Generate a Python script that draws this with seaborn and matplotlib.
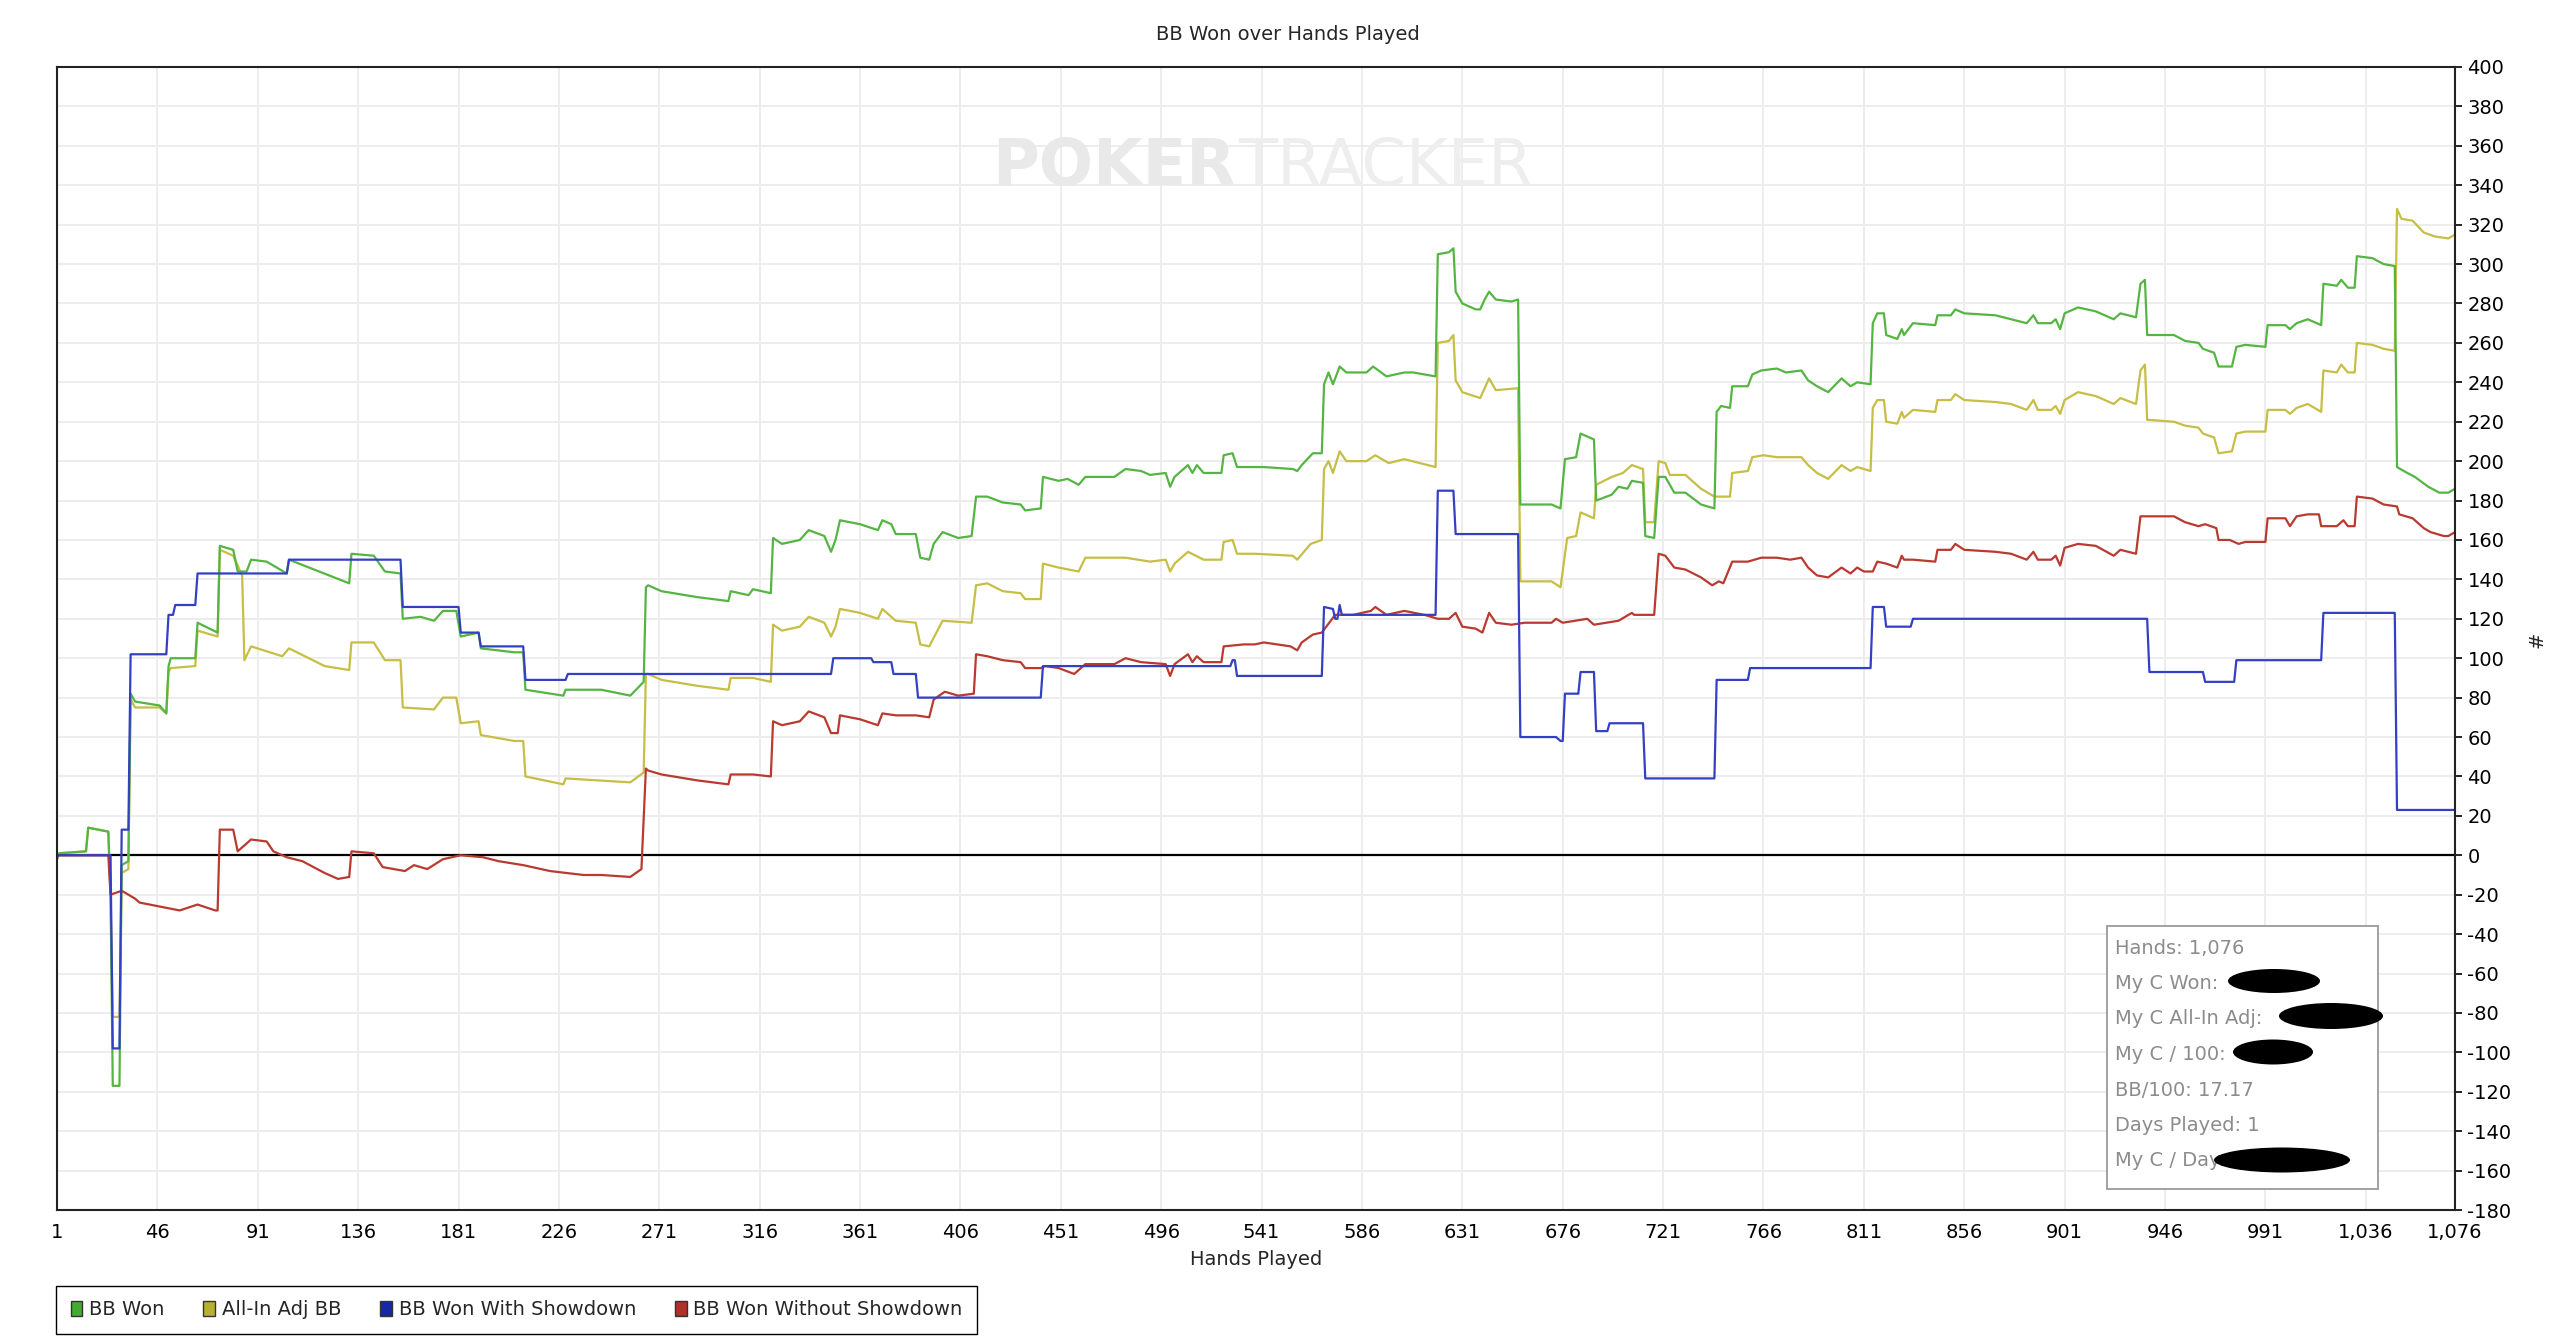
import pandas as pd
import matplotlib
matplotlib.use('Agg')
import matplotlib.pyplot as plt
import seaborn as sns
from matplotlib.patches import Patch, Rectangle, Ellipse

# Valores (mano, BB acumulados)
bb_won_hands = [
    1, 2, 14, 15, 24, 25, 26, 29, 30, 33,
    34, 36, 47, 50, 51, 52, 63, 64, 73, 74,
    80, 82, 86, 88, 95, 104, 105, 132, 133, 143,
    148, 155, 156, 164, 170, 174, 180, 182, 190, 191,
    206, 210, 211, 228, 229, 245, 258, 264, 265, 266,
    272, 288, 302, 303, 311, 313, 321, 322, 326, 334,
    338, 345, 348, 350, 352, 361, 369, 371, 375, 377,
    386, 388, 392, 394, 398, 405, 411, 413, 418, 425,
    433, 435, 442, 443, 450, 454, 459, 462, 475, 480,
    487, 491, 498, 500, 502, 508, 510, 512, 515, 523,
    524, 528, 530, 538, 542, 555, 557, 559, 564, 568,
    569, 571, 573, 576, 579, 588, 591, 597, 605, 609,
    619, 620, 625, 627, 628, 631, 637, 639, 641, 643,
    646, 653, 656, 657, 671, 675, 677, 682, 684, 690,
    691, 698, 701, 705, 707, 712, 713, 717, 719, 722,
    726, 731, 738, 744, 745, 747, 751, 752, 759, 761,
    765, 772, 776, 783, 786, 790, 795, 801, 805, 808,
    814, 815, 817, 820, 821, 826, 828, 829, 833, 843,
    844, 850, 852, 856, 870, 877, 884, 887, 889, 895,
    897, 899, 901, 907, 915, 923, 926, 933, 935, 937,
    938, 950, 955, 961, 963, 968, 970, 976, 978, 982,
    991, 992, 1000, 1002, 1005, 1010, 1016, 1017, 1023, 1025,
    1028, 1031, 1032, 1039, 1044, 1049, 1050, 1053, 1058, 1064,
    1069, 1073, 1076]
bb_won = [
    -2, 1, 2, 14, 12, -20, -117, -117, -5, -3,
    82, 78, 76, 72, 96, 100, 100, 118, 113, 157,
    155, 144, 144, 150, 149, 143, 150, 138, 153, 152,
    144, 143, 120, 121, 119, 124, 124, 111, 113, 105,
    103, 103, 84, 81, 84, 84, 81, 88, 136, 137,
    134, 131, 129, 134, 132, 135, 133, 161, 158, 160,
    165, 162, 154, 160, 170, 168, 165, 170, 168, 163,
    163, 151, 150, 158, 164, 161, 162, 182, 182, 179,
    178, 175, 176, 192, 190, 191, 188, 192, 192, 196,
    195, 193, 194, 187, 192, 198, 194, 198, 194, 194,
    203, 204, 197, 197, 197, 196, 195, 198, 204, 204,
    239, 245, 239, 248, 245, 245, 248, 243, 245, 245,
    243, 305, 306, 308, 286, 280, 277, 277, 282, 286,
    282, 281, 282, 178, 178, 176, 201, 202, 214, 211,
    180, 183, 187, 186, 190, 189, 162, 161, 192, 192,
    184, 184, 178, 176, 225, 228, 227, 238, 238, 244,
    246, 247, 245, 246, 241, 238, 235, 242, 238, 240,
    239, 270, 275, 275, 264, 262, 267, 264, 270, 269,
    274, 274, 277, 275, 274, 272, 270, 274, 270, 270,
    272, 267, 275, 278, 276, 272, 275, 273, 290, 292,
    264, 264, 261, 260, 257, 255, 248, 248, 258, 259,
    258, 269, 269, 267, 270, 272, 269, 290, 289, 292,
    288, 288, 304, 303, 300, 299, 197, 195, 192, 187,
    184, 184, 186]

allin_hands = [
    1, 2, 14, 15, 24, 25, 26, 29, 30, 33,
    34, 36, 47, 50, 51, 52, 63, 64, 73, 74,
    80, 84, 85, 88, 102, 105, 121, 132, 133, 143,
    148, 155, 156, 170, 174, 180, 182, 190, 191, 206,
    210, 211, 228, 229, 258, 264, 265, 266, 272, 288,
    302, 303, 313, 321, 322, 326, 334, 338, 345, 348,
    350, 352, 361, 369, 371, 377, 386, 388, 392, 398,
    411, 413, 418, 425, 433, 435, 442, 443, 450, 459,
    462, 475, 480, 491, 498, 500, 502, 508, 515, 523,
    524, 528, 530, 538, 555, 557, 563, 568, 569, 571,
    573, 576, 579, 588, 592, 598, 605, 619, 620, 625,
    627, 628, 631, 639, 643, 646, 656, 657, 671, 675,
    678, 682, 684, 690, 691, 698, 703, 707, 712, 713,
    717, 719, 722, 724, 731, 738, 744, 751, 752, 759,
    761, 766, 772, 783, 786, 790, 795, 801, 805, 808,
    814, 815, 817, 820, 821, 826, 828, 829, 833, 843,
    844, 850, 852, 856, 870, 877, 884, 887, 889, 895,
    897, 899, 901, 907, 915, 923, 926, 933, 935, 937,
    938, 950, 955, 961, 963, 968, 970, 976, 978, 982,
    991, 992, 1000, 1002, 1005, 1010, 1016, 1017, 1023, 1025,
    1028, 1031, 1032, 1039, 1044, 1049, 1050, 1052, 1057, 1062,
    1067, 1073, 1076]
allin_adj = [
    -2, 1, 2, 14, 12, -20, -82, -82, -9, -7,
    79, 75, 75, 72, 93, 95, 96, 114, 111, 155,
    152, 142, 99, 106, 101, 105, 96, 94, 108, 108,
    99, 99, 75, 74, 80, 80, 67, 68, 61, 58,
    58, 40, 36, 39, 37, 42, 92, 92, 89, 86,
    84, 90, 90, 88, 117, 114, 116, 121, 118, 111,
    116, 125, 123, 120, 125, 119, 118, 107, 106, 119,
    118, 137, 138, 134, 133, 130, 130, 148, 146, 144,
    151, 151, 151, 149, 150, 144, 148, 154, 150, 150,
    159, 160, 153, 153, 152, 150, 158, 160, 196, 200,
    194, 205, 200, 200, 203, 199, 201, 197, 260, 261,
    264, 241, 235, 232, 242, 236, 237, 139, 139, 136,
    161, 162, 174, 171, 188, 192, 194, 198, 196, 169,
    169, 200, 199, 193, 193, 186, 182, 182, 194, 195,
    202, 203, 202, 202, 198, 194, 191, 198, 195, 197,
    195, 227, 231, 231, 220, 219, 225, 222, 226, 225,
    231, 231, 234, 231, 230, 229, 226, 231, 226, 226,
    228, 224, 231, 235, 233, 229, 232, 229, 246, 249,
    221, 220, 218, 217, 214, 212, 204, 205, 214, 215,
    215, 226, 226, 224, 227, 229, 225, 246, 245, 249,
    245, 245, 260, 259, 257, 256, 328, 323, 322, 316,
    314, 313, 315]

sd_hands = [
    1, 25, 26, 29, 30, 33, 34, 50, 51, 53,
    54, 63, 64, 104, 105, 155, 156, 181, 182, 190,
    191, 210, 211, 229, 230, 348, 349, 366, 367, 375,
    376, 386, 387, 442, 443, 527, 528, 529, 530, 568,
    569, 573, 574, 575, 576, 577, 619, 620, 627, 628,
    656, 657, 673, 675, 676, 677, 683, 684, 690, 691,
    696, 697, 712, 713, 744, 745, 759, 760, 814, 815,
    820, 821, 832, 833, 938, 939, 963, 964, 977, 978,
    1016, 1017, 1049, 1050, 1076]
won_showdown = [
    0, 0, -98, -98, 13, 13, 102, 102, 122, 122,
    127, 127, 143, 143, 150, 150, 126, 126, 113, 113,
    106, 106, 89, 89, 92, 92, 100, 100, 98, 98,
    92, 92, 80, 80, 96, 96, 99, 99, 91, 91,
    126, 125, 120, 120, 127, 122, 122, 185, 185, 163,
    163, 60, 60, 58, 58, 82, 82, 93, 93, 63,
    63, 67, 67, 39, 39, 89, 89, 95, 95, 126,
    126, 116, 116, 120, 120, 93, 93, 88, 88, 99,
    99, 123, 123, 23, 23]

nsd_hands = [
    1, 24, 25, 30, 36, 38, 47, 56, 64, 72,
    73, 74, 80, 82, 88, 95, 98, 104, 111, 121,
    127, 132, 133, 143, 147, 157, 161, 167, 174, 182,
    192, 199, 210, 222, 237, 245, 258, 263, 265, 266,
    272, 288, 302, 303, 313, 321, 322, 326, 334, 338,
    345, 348, 351, 352, 361, 369, 371, 377, 386, 392,
    394, 399, 405, 412, 413, 418, 425, 433, 435, 442,
    444, 450, 457, 462, 475, 480, 487, 498, 500, 502,
    508, 510, 512, 515, 523, 524, 533, 538, 542, 554,
    557, 559, 564, 568, 570, 572, 574, 582, 590, 592,
    597, 605, 614, 620, 625, 628, 631, 637, 640, 643,
    646, 653, 659, 671, 673, 676, 687, 690, 701, 707,
    708, 717, 719, 722, 726, 731, 738, 743, 746, 748,
    752, 759, 765, 772, 778, 783, 786, 790, 795, 801,
    805, 808, 811, 815, 817, 821, 826, 828, 829, 833,
    843, 844, 850, 852, 856, 870, 877, 884, 887, 889,
    895, 897, 899, 901, 907, 915, 923, 926, 933, 935,
    939, 950, 955, 961, 964, 969, 970, 975, 979, 982,
    991, 992, 1000, 1002, 1005, 1010, 1015, 1016, 1023, 1026,
    1028, 1031, 1032, 1039, 1044, 1050, 1051, 1057, 1062, 1065,
    1071, 1073, 1076]
won_no_showdown = [
    0, 0, -20, -18, -22, -24, -26, -28, -25, -28,
    -28, 13, 13, 2, 8, 7, 2, -1, -3, -9,
    -12, -11, 2, 1, -6, -8, -5, -7, -2, 0,
    -1, -3, -5, -8, -10, -10, -11, -7, 44, 43,
    41, 38, 36, 41, 41, 40, 68, 66, 68, 73,
    70, 62, 62, 71, 69, 66, 72, 71, 71, 70,
    79, 83, 81, 82, 102, 101, 99, 98, 95, 95,
    96, 95, 92, 97, 97, 100, 98, 97, 91, 97,
    102, 98, 101, 98, 98, 106, 107, 107, 108, 106,
    104, 108, 112, 113, 116, 119, 122, 122, 124, 126,
    122, 124, 122, 120, 120, 123, 116, 115, 113, 123,
    118, 117, 118, 118, 120, 118, 120, 117, 119, 123,
    122, 122, 153, 152, 146, 145, 141, 137, 139, 138,
    149, 149, 151, 151, 150, 151, 146, 142, 141, 146,
    143, 146, 144, 144, 149, 148, 146, 152, 150, 150,
    149, 155, 155, 158, 155, 154, 153, 150, 154, 150,
    150, 152, 147, 156, 158, 157, 152, 155, 153, 172,
    172, 172, 169, 167, 168, 166, 160, 160, 158, 159,
    159, 171, 171, 167, 172, 173, 173, 167, 167, 170,
    167, 167, 182, 181, 178, 177, 173, 171, 166, 164,
    162, 162, 164]

series_names = ['BB Won', 'All-In Adj BB', 'BB Won With Showdown', 'BB Won Without Showdown']
line_colors = ['#55b543', '#c6be45', '#3340c4', '#b83a30']
legend_colors = ['#44aa33', '#b8b030', '#1428a8', '#b0302a']
draw_order = ['All-In Adj BB', 'BB Won', 'BB Won Without Showdown', 'BB Won With Showdown']
x_ticks = [1, 46, 91, 136, 181, 226, 271, 316, 361, 406, 451, 496, 541, 586,
           631, 676, 721, 766, 811, 856, 901, 946, 991, 1036, 1076]
y_ticks = list(range(-180, 401, 20))
stats_lines = ['Hands: 1,076', 'My C Won:', 'My C All-In Adj:', 'My C / 100:',
               'BB/100: 17.17', 'Days Played: 1', 'My C / Day:']

# Tabla larga para seaborn
frames = []
for name, h, v in [(series_names[0], bb_won_hands, bb_won),
                   (series_names[1], allin_hands, allin_adj),
                   (series_names[2], sd_hands, won_showdown),
                   (series_names[3], nsd_hands, won_no_showdown)]:
    frames.append(pd.DataFrame({'hand': h, 'bb': v, 'serie': name}))
df = pd.concat(frames, ignore_index=True)

sns.set_style('white')
plt.rcParams['font.family'] = ['DejaVu Sans']
plt.rcParams['axes.unicode_minus'] = False

W, H = 2560, 1342
fig = plt.figure(figsize=(W / 100, H / 100), dpi=100)
ax = fig.add_axes([57 / W, 1 - 1210 / H, (2455 - 57) / W, (1210 - 67) / H])

sns.lineplot(data=df, x='hand', y='bb', hue='serie', hue_order=draw_order,
             palette=dict(zip(series_names, line_colors)), estimator=None,
             sort=False, linewidth=1.6, legend=False, ax=ax)

ax.axhline(0, color='black', lw=1.6, zorder=1)
ax.set_xlim(1, 1076)
ax.set_ylim(-180, 400)
ax.set_xticks(x_ticks)
ax.set_xticklabels([f'{t:,}' for t in x_ticks])
ax.set_yticks(y_ticks)
ax.yaxis.tick_right()
ax.grid(True, color='#ececec', lw=1.3, zorder=0)
ax.set_axisbelow(True)
ax.tick_params(axis='both', direction='out', length=5, width=1.2, pad=4,
               labelsize=14, colors='black')
for s in ax.spines.values():
    s.set_color('#222222')
    s.set_linewidth(1.5)
ax.set_xlabel('Hands Played', fontsize=14, labelpad=6)
ax.set_ylabel('')

fig.text(1288 / W, 1 - 34 / H, 'BB Won over Hands Played', ha='center', va='center', fontsize=14)
fig.text(2537 / W, 1 - 640 / H, '#', ha='center', va='center', rotation=90, fontsize=14)

# Marca de agua
fig.text(1236 / W, 1 - 185 / H, 'POKER', ha='right', va='baseline', fontsize=46,
         fontweight='bold', color='#e9e9e9', zorder=0)
fig.text(1238 / W, 1 - 185 / H, 'TRACKER', ha='left', va='baseline', fontsize=46,
         color='#eeeeee', zorder=0)

# Cuadro de estadisticas
fig.patches.append(Rectangle((2107 / W, 1 - 1189 / H), (2378 - 2107) / W, (1189 - 926) / H,
                             transform=fig.transFigure, facecolor='white',
                             edgecolor='#9a9a9a', lw=1.3, zorder=5))
for i, txt in enumerate(stats_lines):
    fig.text(2115 / W, 1 - (948 + i * 35.5) / H, txt, ha='left', va='center',
             fontsize=14, color='#8c8c8c', zorder=6)
for cx, cy, w, h in [(2274, 981, 92, 24), (2331, 1016, 104, 26),
                     (2273, 1052, 80, 25), (2282, 1160, 136, 25)]:
    fig.patches.append(Ellipse((cx / W, 1 - cy / H), w / W, h / H,
                               transform=fig.transFigure, facecolor='black',
                               edgecolor='none', zorder=7))

handles = [Patch(facecolor=c, edgecolor='#333333', lw=1) for c in legend_colors]
fig.legend(handles, series_names, loc='lower left', bbox_to_anchor=(56 / W, 1 - 1334 / H),
           ncol=4, fontsize=14, frameon=True, fancybox=False, edgecolor='black',
           framealpha=1, handlelength=0.6, handleheight=0.8, handletextpad=0.35,
           columnspacing=2.0, borderpad=0.75, borderaxespad=0)

fig.savefig('out.png', dpi=100)
